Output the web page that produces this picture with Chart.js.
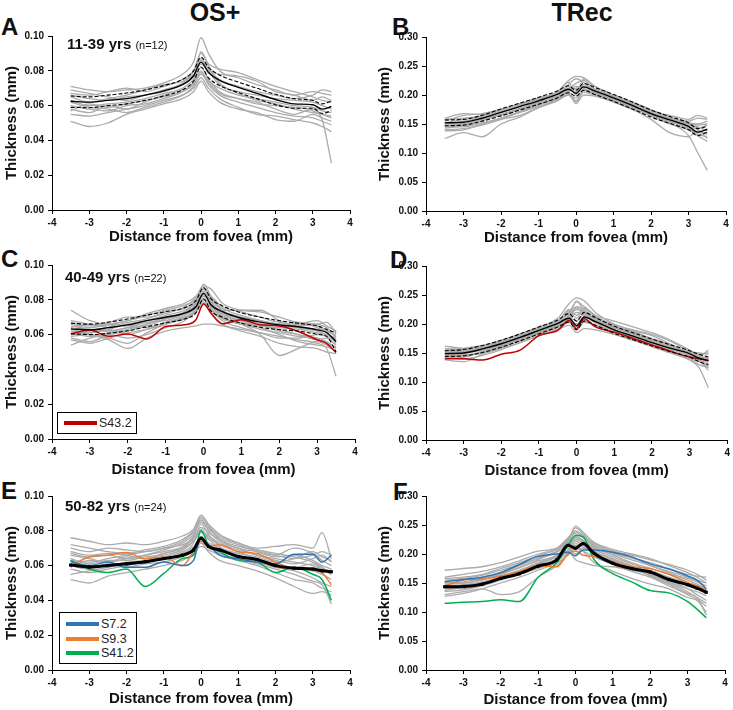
<!DOCTYPE html>
<html>
<head>
<meta charset="utf-8">
<script src="https://cdn.jsdelivr.net/npm/chart.js@4.4.1/dist/chart.umd.min.js"></script>
<style>
  html, body { margin:0; padding:0; background:#fff; overflow:hidden; }
  body { width:733px; height:710px; position:relative; font-family:"Liberation Sans", Arial, sans-serif; color:#111; }
  .cv { position:absolute; }
  .txt { position:absolute; white-space:nowrap; line-height:1; }
  .letter { font-size:24px; font-weight:bold; }
  .head { font-size:25px; font-weight:bold; width:140px; text-align:center; }
  .ann { font-size:15px; font-weight:bold; }
  .ann span { font-size:11px; font-weight:normal; }
  .legend { position:absolute; border:1.4px solid #000; background:#fff; box-sizing:border-box; }
  .lrow { position:absolute; left:0; height:14px; width:100%; }
  .lline { position:absolute; left:6px; top:5px; width:33px; height:4px; }
  .ltxt { position:absolute; left:41px; top:0; font-size:12.5px; line-height:14px; color:#222; }
</style>
</head>
<body>
<!-- headings and panel letters -->
<div class="txt head" style="left:145px;top:0px;">OS+</div>
<div class="txt head" style="left:512px;top:0px;">TRec</div>
<div class="txt letter" style="left:1px;top:15px;">A</div>
<div class="txt letter" style="left:392px;top:15px;">B</div>
<div class="txt letter" style="left:1px;top:247px;">C</div>
<div class="txt letter" style="left:390px;top:248px;">D</div>
<div class="txt letter" style="left:1px;top:479px;">E</div>
<div class="txt letter" style="left:393px;top:480px;">F</div>

<canvas id="cA" class="cv" width="358" height="220" style="left:0px;top:26px;"></canvas>
<canvas id="cB" class="cv" width="363" height="220" style="left:370px;top:27px;"></canvas>
<canvas id="cC" class="cv" width="363" height="224" style="left:0px;top:255px;"></canvas>
<canvas id="cD" class="cv" width="363" height="224" style="left:370px;top:256px;"></canvas>
<canvas id="cE" class="cv" width="358" height="222" style="left:0px;top:486px;"></canvas>
<canvas id="cF" class="cv" width="363" height="223" style="left:370px;top:486px;"></canvas>

<div class="txt ann" style="left:67px;top:36px;">11-39 yrs <span>(n=12)</span></div>
<div class="txt ann" style="left:65px;top:269px;">40-49 yrs <span>(n=22)</span></div>
<div class="txt ann" style="left:65px;top:498px;">50-82 yrs <span>(n=24)</span></div>

<div class="legend" style="left:57px;top:412px;width:80px;height:22px;">
  <div class="lrow" style="top:3px;"><div class="lline" style="background:#C00000;"></div><div class="ltxt">S43.2</div></div>
</div>
<div class="legend" style="left:59px;top:612px;width:78px;height:52px;">
  <div class="lrow" style="top:4px;"><div class="lline" style="background:#2E75B6;"></div><div class="ltxt">S7.2</div></div>
  <div class="lrow" style="top:19px;"><div class="lline" style="background:#ED7D31;"></div><div class="ltxt">S9.3</div></div>
  <div class="lrow" style="top:33px;"><div class="lline" style="background:#00B050;"></div><div class="ltxt">S41.2</div></div>
</div>

<script>
// ---------- shared x positions (mm from fovea) ----------
const distances = [-3.5,-3.0,-2.5,-2.0,-1.5,-1.0,-0.5,-0.2,0,0.2,0.5,1.0,1.5,2.0,2.5,3.0,3.25,3.5];

// ---------- Panel A: OS+, 11-39 yrs ----------
const meanA  = [0.0625,0.0620,0.0630,0.0640,0.0660,0.0685,0.0720,0.0770,0.0850,0.0790,0.0745,0.0705,0.0670,0.0635,0.0610,0.0605,0.0580,0.0595];
const upperA = [0.0655,0.0650,0.0660,0.0672,0.0690,0.0715,0.0750,0.0800,0.0878,0.0820,0.0775,0.0735,0.0700,0.0665,0.0640,0.0630,0.0610,0.0625];
const lowerA = [0.0590,0.0588,0.0600,0.0610,0.0630,0.0655,0.0690,0.0740,0.0822,0.0760,0.0715,0.0675,0.0640,0.0605,0.0585,0.0585,0.0555,0.0570];
const grayA = [
  [0.071,0.069,0.068,0.069,0.070,0.073,0.078,0.085,0.099,0.090,0.080,0.076,0.072,0.069,0.066,0.068,0.067,0.066],
  [0.067,0.066,0.068,0.070,0.068,0.071,0.075,0.080,0.090,0.084,0.081,0.079,0.075,0.071,0.068,0.065,0.063,0.062],
  [0.065,0.062,0.064,0.066,0.069,0.072,0.074,0.078,0.086,0.080,0.072,0.068,0.066,0.064,0.063,0.062,0.060,0.058],
  [0.063,0.060,0.061,0.062,0.064,0.067,0.070,0.075,0.082,0.075,0.068,0.064,0.061,0.060,0.059,0.057,0.052,0.027],
  [0.060,0.058,0.057,0.060,0.061,0.064,0.068,0.073,0.080,0.072,0.066,0.062,0.059,0.056,0.054,0.053,0.051,0.049],
  [0.058,0.056,0.060,0.058,0.062,0.066,0.069,0.072,0.078,0.073,0.067,0.064,0.062,0.058,0.055,0.058,0.055,0.053],
  [0.055,0.054,0.056,0.058,0.060,0.063,0.066,0.070,0.076,0.070,0.064,0.059,0.055,0.054,0.052,0.050,0.048,0.045],
  [0.051,0.048,0.050,0.055,0.058,0.061,0.064,0.068,0.074,0.068,0.062,0.058,0.056,0.052,0.051,0.055,0.053,0.051],
  [0.069,0.067,0.065,0.063,0.066,0.068,0.072,0.077,0.084,0.080,0.078,0.077,0.074,0.068,0.066,0.063,0.065,0.063],
  [0.066,0.064,0.063,0.065,0.066,0.069,0.073,0.080,0.087,0.081,0.075,0.071,0.068,0.066,0.064,0.066,0.069,0.068],
  [0.062,0.059,0.058,0.056,0.059,0.062,0.066,0.071,0.079,0.074,0.070,0.066,0.064,0.062,0.060,0.059,0.057,0.056],
  [0.057,0.061,0.059,0.061,0.063,0.065,0.068,0.074,0.091,0.083,0.073,0.067,0.063,0.061,0.058,0.056,0.055,0.054]
];

// ---------- Panel B: TRec, 11-39 yrs ----------
const meanB  = [0.152,0.153,0.160,0.170,0.180,0.190,0.201,0.210,0.203,0.214,0.207,0.195,0.182,0.168,0.157,0.146,0.136,0.141];
const upperB = [0.157,0.158,0.165,0.176,0.186,0.196,0.207,0.216,0.208,0.220,0.213,0.201,0.188,0.174,0.163,0.152,0.142,0.146];
const lowerB = [0.147,0.148,0.155,0.164,0.174,0.184,0.195,0.204,0.198,0.208,0.201,0.189,0.176,0.162,0.151,0.140,0.130,0.136];
const grayB = [
  [0.155,0.165,0.168,0.175,0.185,0.195,0.205,0.225,0.232,0.230,0.215,0.200,0.187,0.173,0.160,0.152,0.150,0.155],
  [0.148,0.150,0.158,0.167,0.177,0.188,0.198,0.205,0.190,0.208,0.203,0.192,0.180,0.167,0.155,0.143,0.130,0.120],
  [0.125,0.135,0.128,0.150,0.162,0.178,0.192,0.200,0.188,0.205,0.200,0.190,0.178,0.165,0.152,0.130,0.100,0.070],
  [0.145,0.145,0.152,0.160,0.172,0.183,0.195,0.210,0.220,0.225,0.210,0.197,0.183,0.168,0.160,0.155,0.160,0.158],
  [0.150,0.155,0.160,0.165,0.175,0.185,0.196,0.218,0.228,0.222,0.205,0.192,0.178,0.164,0.150,0.140,0.132,0.128],
  [0.140,0.142,0.148,0.158,0.170,0.182,0.195,0.203,0.185,0.200,0.198,0.188,0.176,0.168,0.158,0.148,0.145,0.138],
  [0.158,0.160,0.164,0.172,0.182,0.193,0.204,0.215,0.205,0.218,0.210,0.198,0.185,0.170,0.160,0.150,0.148,0.150],
  [0.143,0.147,0.152,0.158,0.165,0.178,0.190,0.200,0.195,0.210,0.202,0.188,0.175,0.158,0.135,0.128,0.138,0.132],
  [0.152,0.158,0.162,0.170,0.181,0.192,0.202,0.212,0.210,0.215,0.208,0.195,0.184,0.172,0.165,0.158,0.165,0.160],
  [0.138,0.140,0.150,0.160,0.170,0.180,0.192,0.206,0.215,0.212,0.200,0.190,0.178,0.165,0.155,0.145,0.140,0.125],
  [0.160,0.168,0.166,0.175,0.184,0.194,0.204,0.222,0.200,0.228,0.215,0.200,0.188,0.175,0.162,0.150,0.143,0.148],
  [0.146,0.149,0.156,0.166,0.176,0.187,0.197,0.208,0.212,0.214,0.204,0.193,0.181,0.167,0.154,0.142,0.135,0.135]
];

// ---------- Panel C: OS+, 40-49 yrs ----------
const meanC  = [0.0633,0.0627,0.0640,0.0656,0.0680,0.0700,0.0723,0.0760,0.0837,0.0770,0.0732,0.0694,0.0672,0.0656,0.0645,0.0627,0.0612,0.0560];
const upperC = [0.0665,0.0660,0.0672,0.0690,0.0712,0.0732,0.0755,0.0795,0.0870,0.0805,0.0765,0.0725,0.0700,0.0680,0.0665,0.0650,0.0630,0.0610];
const lowerC = [0.0605,0.0600,0.0608,0.0622,0.0645,0.0668,0.0690,0.0725,0.0805,0.0735,0.0700,0.0665,0.0642,0.0628,0.0620,0.0602,0.0590,0.0500];
const s43_2_OS = [0.0604,0.0627,0.0590,0.0604,0.0575,0.0646,0.0656,0.0685,0.0776,0.0723,0.0662,0.0685,0.0656,0.0650,0.0618,0.0570,0.0550,0.0497];
const grayC = [
  [0.074,0.068,0.066,0.068,0.072,0.075,0.078,0.082,0.088,0.086,0.078,0.074,0.073,0.070,0.067,0.066,0.064,0.058],
  [0.054,0.058,0.060,0.058,0.060,0.064,0.068,0.074,0.083,0.078,0.070,0.066,0.060,0.048,0.052,0.056,0.054,0.050],
  [0.062,0.060,0.057,0.052,0.058,0.062,0.064,0.065,0.066,0.066,0.065,0.063,0.061,0.059,0.057,0.055,0.052,0.036],
  [0.066,0.064,0.066,0.068,0.071,0.074,0.077,0.080,0.086,0.082,0.076,0.073,0.070,0.067,0.066,0.065,0.062,0.060],
  [0.060,0.062,0.062,0.064,0.065,0.069,0.072,0.078,0.089,0.082,0.074,0.070,0.066,0.063,0.060,0.058,0.056,0.052],
  [0.058,0.056,0.060,0.062,0.066,0.070,0.072,0.076,0.080,0.076,0.074,0.074,0.074,0.068,0.064,0.062,0.060,0.057],
  [0.064,0.066,0.064,0.066,0.068,0.070,0.073,0.077,0.084,0.079,0.072,0.068,0.065,0.064,0.066,0.068,0.065,0.062],
  [0.063,0.061,0.063,0.060,0.063,0.066,0.070,0.074,0.081,0.075,0.069,0.066,0.063,0.061,0.059,0.058,0.055,0.053],
  [0.067,0.065,0.067,0.070,0.070,0.072,0.076,0.081,0.087,0.080,0.075,0.071,0.068,0.066,0.067,0.064,0.061,0.055],
  [0.059,0.060,0.058,0.055,0.061,0.066,0.069,0.073,0.078,0.074,0.068,0.064,0.061,0.058,0.058,0.060,0.059,0.056],
  [0.065,0.063,0.062,0.064,0.067,0.068,0.072,0.076,0.085,0.078,0.070,0.067,0.065,0.064,0.063,0.061,0.060,0.058],
  [0.061,0.059,0.061,0.063,0.066,0.069,0.073,0.079,0.086,0.081,0.073,0.069,0.066,0.062,0.060,0.057,0.058,0.054],
  [0.068,0.066,0.065,0.067,0.069,0.073,0.075,0.079,0.083,0.077,0.071,0.068,0.066,0.065,0.064,0.063,0.062,0.059],
  [0.057,0.055,0.058,0.061,0.063,0.066,0.070,0.073,0.079,0.072,0.066,0.062,0.059,0.055,0.053,0.052,0.050,0.049],
  [0.063,0.064,0.066,0.065,0.068,0.071,0.074,0.078,0.082,0.078,0.072,0.070,0.068,0.066,0.065,0.066,0.067,0.061],
  [0.060,0.061,0.063,0.066,0.064,0.067,0.071,0.075,0.080,0.076,0.070,0.066,0.064,0.060,0.056,0.054,0.053,0.051]
];

// ---------- Panel D: TRec, 40-49 yrs ----------
const meanD  = [0.149,0.150,0.157,0.166,0.177,0.189,0.201,0.210,0.197,0.212,0.204,0.190,0.179,0.168,0.158,0.149,0.141,0.137];
const upperD = [0.154,0.156,0.163,0.172,0.183,0.195,0.207,0.218,0.205,0.220,0.211,0.196,0.185,0.174,0.164,0.154,0.148,0.143];
const lowerD = [0.144,0.145,0.151,0.160,0.171,0.183,0.195,0.203,0.190,0.205,0.198,0.184,0.173,0.162,0.152,0.143,0.135,0.130];
const s43_2_TR = [0.140,0.140,0.138,0.148,0.155,0.180,0.189,0.206,0.192,0.209,0.195,0.186,0.175,0.164,0.153,0.143,0.140,0.137];
const grayD = [
  [0.162,0.158,0.162,0.172,0.183,0.195,0.210,0.235,0.245,0.240,0.220,0.200,0.187,0.174,0.162,0.150,0.145,0.155],
  [0.138,0.135,0.148,0.158,0.168,0.180,0.190,0.198,0.185,0.192,0.190,0.182,0.172,0.162,0.150,0.138,0.125,0.090],
  [0.152,0.153,0.160,0.170,0.182,0.193,0.205,0.220,0.238,0.230,0.215,0.205,0.195,0.185,0.172,0.155,0.145,0.140],
  [0.145,0.147,0.150,0.160,0.172,0.185,0.197,0.205,0.190,0.203,0.198,0.186,0.175,0.163,0.152,0.140,0.130,0.125],
  [0.150,0.152,0.158,0.168,0.178,0.190,0.202,0.215,0.225,0.220,0.206,0.193,0.182,0.172,0.160,0.148,0.142,0.135],
  [0.140,0.143,0.152,0.163,0.175,0.187,0.199,0.208,0.200,0.212,0.202,0.188,0.176,0.165,0.156,0.146,0.138,0.132],
  [0.158,0.156,0.160,0.167,0.177,0.190,0.203,0.225,0.215,0.228,0.212,0.198,0.188,0.180,0.165,0.150,0.143,0.140],
  [0.147,0.150,0.155,0.164,0.174,0.186,0.198,0.212,0.205,0.218,0.210,0.195,0.184,0.170,0.157,0.145,0.137,0.120],
  [0.155,0.158,0.163,0.170,0.180,0.192,0.204,0.218,0.230,0.225,0.208,0.194,0.182,0.168,0.158,0.152,0.150,0.148],
  [0.143,0.140,0.146,0.156,0.168,0.180,0.192,0.203,0.195,0.206,0.197,0.183,0.172,0.161,0.150,0.141,0.135,0.128],
  [0.150,0.151,0.157,0.166,0.176,0.189,0.200,0.214,0.240,0.222,0.208,0.196,0.186,0.175,0.163,0.147,0.140,0.138],
  [0.146,0.145,0.153,0.162,0.173,0.184,0.196,0.207,0.220,0.215,0.204,0.190,0.180,0.170,0.160,0.149,0.144,0.142],
  [0.153,0.155,0.159,0.168,0.179,0.191,0.205,0.222,0.210,0.226,0.213,0.199,0.190,0.182,0.170,0.153,0.147,0.150],
  [0.141,0.146,0.150,0.161,0.171,0.183,0.195,0.210,0.228,0.218,0.203,0.189,0.177,0.165,0.153,0.142,0.136,0.125]
];

// ---------- Panel E: OS+, 50-82 yrs ----------
const meanE = [0.0603,0.0592,0.0600,0.0610,0.0622,0.0640,0.0660,0.0690,0.0757,0.0710,0.0690,0.0652,0.0635,0.0600,0.0585,0.0580,0.0570,0.0565];
const s7_2_OS  = [0.0623,0.0600,0.0620,0.0590,0.0590,0.0620,0.0600,0.0630,0.0765,0.0720,0.0660,0.0640,0.0620,0.0610,0.0665,0.0665,0.0620,0.0660];
const s9_3_OS  = [0.0600,0.0650,0.0660,0.0675,0.0640,0.0650,0.0600,0.0680,0.0740,0.0710,0.0720,0.0680,0.0670,0.0620,0.0585,0.0580,0.0560,0.0490];
const s41_2_OS = [0.0630,0.0580,0.0560,0.0580,0.0480,0.0555,0.0640,0.0660,0.0800,0.0720,0.0680,0.0630,0.0620,0.0560,0.0590,0.0550,0.0520,0.0400];
const grayE = [
  [0.076,0.074,0.072,0.073,0.072,0.074,0.077,0.081,0.089,0.084,0.078,0.073,0.070,0.071,0.072,0.070,0.079,0.064],
  [0.052,0.050,0.054,0.056,0.058,0.060,0.063,0.067,0.073,0.068,0.063,0.060,0.057,0.053,0.048,0.044,0.045,0.043],
  [0.070,0.068,0.070,0.069,0.068,0.070,0.074,0.079,0.085,0.081,0.076,0.072,0.068,0.065,0.066,0.063,0.060,0.058],
  [0.066,0.064,0.062,0.064,0.066,0.069,0.073,0.078,0.087,0.080,0.074,0.070,0.066,0.063,0.061,0.064,0.066,0.062],
  [0.058,0.056,0.058,0.060,0.062,0.064,0.067,0.071,0.076,0.071,0.067,0.064,0.061,0.058,0.055,0.051,0.049,0.038],
  [0.063,0.062,0.064,0.066,0.068,0.070,0.072,0.075,0.080,0.077,0.073,0.069,0.066,0.064,0.062,0.060,0.058,0.057],
  [0.061,0.060,0.060,0.062,0.063,0.065,0.068,0.073,0.084,0.078,0.071,0.067,0.065,0.062,0.064,0.068,0.065,0.063],
  [0.068,0.066,0.067,0.066,0.064,0.067,0.070,0.076,0.082,0.079,0.075,0.071,0.069,0.067,0.065,0.062,0.059,0.055],
  [0.055,0.057,0.059,0.061,0.062,0.064,0.066,0.070,0.075,0.073,0.070,0.066,0.062,0.059,0.057,0.053,0.050,0.048],
  [0.072,0.070,0.068,0.067,0.069,0.071,0.075,0.080,0.088,0.083,0.077,0.073,0.069,0.066,0.064,0.066,0.068,0.066],
  [0.064,0.061,0.063,0.063,0.065,0.066,0.069,0.074,0.079,0.075,0.070,0.066,0.063,0.060,0.058,0.057,0.055,0.052],
  [0.060,0.058,0.061,0.059,0.061,0.062,0.065,0.068,0.071,0.069,0.066,0.063,0.060,0.056,0.052,0.050,0.047,0.045],
  [0.067,0.065,0.066,0.064,0.066,0.068,0.071,0.077,0.086,0.082,0.075,0.070,0.068,0.066,0.070,0.067,0.063,0.060],
  [0.059,0.063,0.062,0.065,0.064,0.067,0.070,0.074,0.081,0.076,0.072,0.068,0.064,0.061,0.059,0.061,0.058,0.055]
];

// ---------- Panel F: TRec, 50-82 yrs ----------
const meanF = [0.1435,0.1440,0.1480,0.1580,0.1660,0.1790,0.1900,0.2150,0.2100,0.2180,0.2010,0.1840,0.1750,0.1690,0.1560,0.1470,0.1410,0.1340];
const s7_2_TR  = [0.1520,0.1560,0.1600,0.1680,0.1820,0.1960,0.2000,0.2030,0.1970,0.2070,0.2070,0.2030,0.1950,0.1830,0.1740,0.1620,0.1550,0.1400];
const s9_3_TR  = [0.1450,0.1550,0.1570,0.1620,0.1700,0.1800,0.1780,0.2000,0.2050,0.1980,0.1960,0.1860,0.1780,0.1750,0.1650,0.1510,0.1450,0.1370];
const s41_2_TR = [0.1150,0.1170,0.1180,0.1210,0.1180,0.1600,0.1850,0.2150,0.2320,0.2300,0.1900,0.1660,0.1520,0.1370,0.1330,0.1180,0.1050,0.0900];
const grayF = [
  [0.172,0.175,0.178,0.185,0.195,0.205,0.210,0.225,0.245,0.235,0.215,0.205,0.195,0.180,0.170,0.160,0.155,0.150],
  [0.130,0.135,0.140,0.130,0.135,0.160,0.180,0.200,0.215,0.205,0.185,0.170,0.158,0.148,0.140,0.125,0.120,0.100],
  [0.150,0.152,0.158,0.168,0.180,0.193,0.205,0.220,0.238,0.230,0.212,0.198,0.185,0.175,0.165,0.158,0.152,0.145],
  [0.140,0.142,0.148,0.156,0.168,0.182,0.195,0.205,0.190,0.185,0.180,0.178,0.172,0.165,0.155,0.140,0.130,0.120],
  [0.160,0.165,0.170,0.178,0.188,0.200,0.210,0.228,0.240,0.232,0.218,0.205,0.198,0.190,0.182,0.172,0.165,0.155],
  [0.145,0.147,0.152,0.160,0.170,0.183,0.196,0.212,0.225,0.220,0.205,0.192,0.180,0.168,0.156,0.146,0.140,0.132],
  [0.135,0.138,0.145,0.155,0.165,0.175,0.188,0.203,0.218,0.212,0.200,0.188,0.176,0.163,0.150,0.135,0.125,0.115],
  [0.155,0.158,0.163,0.172,0.182,0.192,0.203,0.215,0.230,0.224,0.210,0.200,0.190,0.180,0.168,0.155,0.148,0.140],
  [0.142,0.140,0.150,0.162,0.172,0.185,0.197,0.210,0.200,0.210,0.203,0.190,0.178,0.162,0.148,0.132,0.125,0.095],
  [0.148,0.150,0.155,0.165,0.176,0.190,0.205,0.225,0.235,0.228,0.214,0.202,0.193,0.185,0.175,0.165,0.162,0.160],
  [0.127,0.132,0.140,0.150,0.160,0.172,0.185,0.198,0.210,0.205,0.195,0.182,0.170,0.160,0.145,0.130,0.122,0.110],
  [0.158,0.160,0.165,0.175,0.185,0.197,0.208,0.222,0.248,0.238,0.220,0.208,0.200,0.192,0.180,0.168,0.160,0.150],
  [0.137,0.143,0.150,0.158,0.168,0.180,0.192,0.207,0.222,0.215,0.200,0.188,0.176,0.165,0.152,0.140,0.135,0.128],
  [0.152,0.150,0.156,0.166,0.177,0.188,0.198,0.215,0.228,0.222,0.208,0.195,0.183,0.172,0.160,0.150,0.145,0.138]
];

// ---------- axis settings ----------
const xTitle = 'Distance from fovea (mm)';
const yTitle = 'Thickness (mm)';
const osYMax = 0.10, osYStep = 0.02;
const trYMax = 0.30, trYStep = 0.05;

// ---------- drawing ----------
const FONT = '"Liberation Sans", Arial, sans-serif';
const GRAY = '#ababab';
const pts = arr => distances.map((x, i) => ({ x: x, y: arr[i] }));

function lineDs(arr, color, width, extra) {
  return Object.assign({
    data: pts(arr), borderColor: color, backgroundColor: color, borderWidth: width,
    pointRadius: 0, fill: false, cubicInterpolationMode: 'monotone'
  }, extra || {});
}

function makePanel(id, cfg) {
  const ds = [];
  if (cfg.mean) {
    if (cfg.bold) {
      ds.push(lineDs(cfg.mean, '#000', 3, { order: 0, pointRadius: 2.2, pointStyle: 'rect', pointBorderWidth: 0 }));
    } else {
      ds.push(lineDs(cfg.mean, '#000', 1.4, { order: 0 }));
    }
  }
  if (cfg.upper) ds.push(lineDs(cfg.upper, '#000', 1.1, { order: 1, borderDash: [4, 2] }));
  if (cfg.lower) ds.push(lineDs(cfg.lower, '#000', 1.1, { order: 1, borderDash: [4, 2] }));
  (cfg.colored || []).forEach(c => ds.push(lineDs(c.data, c.color, 1.5, { order: 2 })));
  cfg.gray.forEach(g => ds.push(lineDs(g, GRAY, 1.3, { order: 3 })));

  const tickFont = { family: FONT, size: 10, weight: 'bold' };
  const titleFont = { family: FONT, size: 15, weight: 'bold' };

  new Chart(document.getElementById(id), {
    type: 'line',
    data: { datasets: ds },
    options: {
      responsive: false, animation: false, devicePixelRatio: 1,
      layout: { padding: { top: 10, right: cfg.padRight, left: 0, bottom: 0 } },
      plugins: { legend: { display: false }, tooltip: { enabled: false } },
      scales: {
        x: {
          type: 'linear', min: -4, max: 4,
          ticks: { stepSize: 1, font: tickFont, color: '#111', padding: 3, maxRotation: 0, autoSkip: false },
          grid: { drawOnChartArea: false, drawTicks: true, tickLength: 4, color: '#000', tickColor: '#000' },
          border: { display: true, color: '#000', width: 1 },
          title: { display: true, text: xTitle, font: titleFont, color: '#111', padding: { top: 0, bottom: 0 } },
          afterFit: s => { s.height = cfg.xh; }
        },
        y: {
          type: 'linear', min: 0, max: cfg.yMax,
          ticks: { stepSize: cfg.yStep, font: tickFont, color: '#111', padding: cfg.yPad,
                   callback: v => Number(v).toFixed(2) },
          grid: { drawOnChartArea: false, drawTicks: true, tickLength: 4, color: '#000', tickColor: '#000' },
          border: { display: true, color: '#000', width: 1 },
          title: { display: true, text: yTitle, font: titleFont, color: '#111', padding: { top: cfg.yTitlePad, bottom: 0 } },
          afterFit: s => { s.width = cfg.yw; }
        }
      }
    }
  });
}

makePanel('cA', { mean: meanA, upper: upperA, lower: lowerA, gray: grayA,
  yMax: osYMax, yStep: osYStep, xh: 36, yw: 52, padRight: 8, yPad: 4, yTitlePad: 3 });
makePanel('cB', { mean: meanB, upper: upperB, lower: lowerB, gray: grayB,
  yMax: trYMax, yStep: trYStep, xh: 36, yw: 56, padRight: 7, yPad: 4, yTitlePad: 6 });
makePanel('cC', { mean: meanC, upper: upperC, lower: lowerC, gray: grayC,
  colored: [{ data: s43_2_OS, color: '#C00000' }],
  yMax: osYMax, yStep: osYStep, xh: 40, yw: 52, padRight: 8, yPad: 4, yTitlePad: 3 });
makePanel('cD', { mean: meanD, upper: upperD, lower: lowerD, gray: grayD,
  colored: [{ data: s43_2_TR, color: '#C00000' }],
  yMax: trYMax, yStep: trYStep, xh: 40, yw: 56, padRight: 5, yPad: 4, yTitlePad: 6 });
makePanel('cE', { mean: meanE, bold: true, gray: grayE,
  colored: [{ data: s7_2_OS, color: '#2E75B6' }, { data: s9_3_OS, color: '#ED7D31' }, { data: s41_2_OS, color: '#00B050' }],
  yMax: osYMax, yStep: osYStep, xh: 38, yw: 52, padRight: 8, yPad: 4, yTitlePad: 3 });
makePanel('cF', { mean: meanF, bold: true, gray: grayF,
  colored: [{ data: s7_2_TR, color: '#2E75B6' }, { data: s9_3_TR, color: '#ED7D31' }, { data: s41_2_TR, color: '#00B050' }],
  yMax: trYMax, yStep: trYStep, xh: 39, yw: 56, padRight: 8, yPad: 4, yTitlePad: 6 });
</script>
</body>
</html>
